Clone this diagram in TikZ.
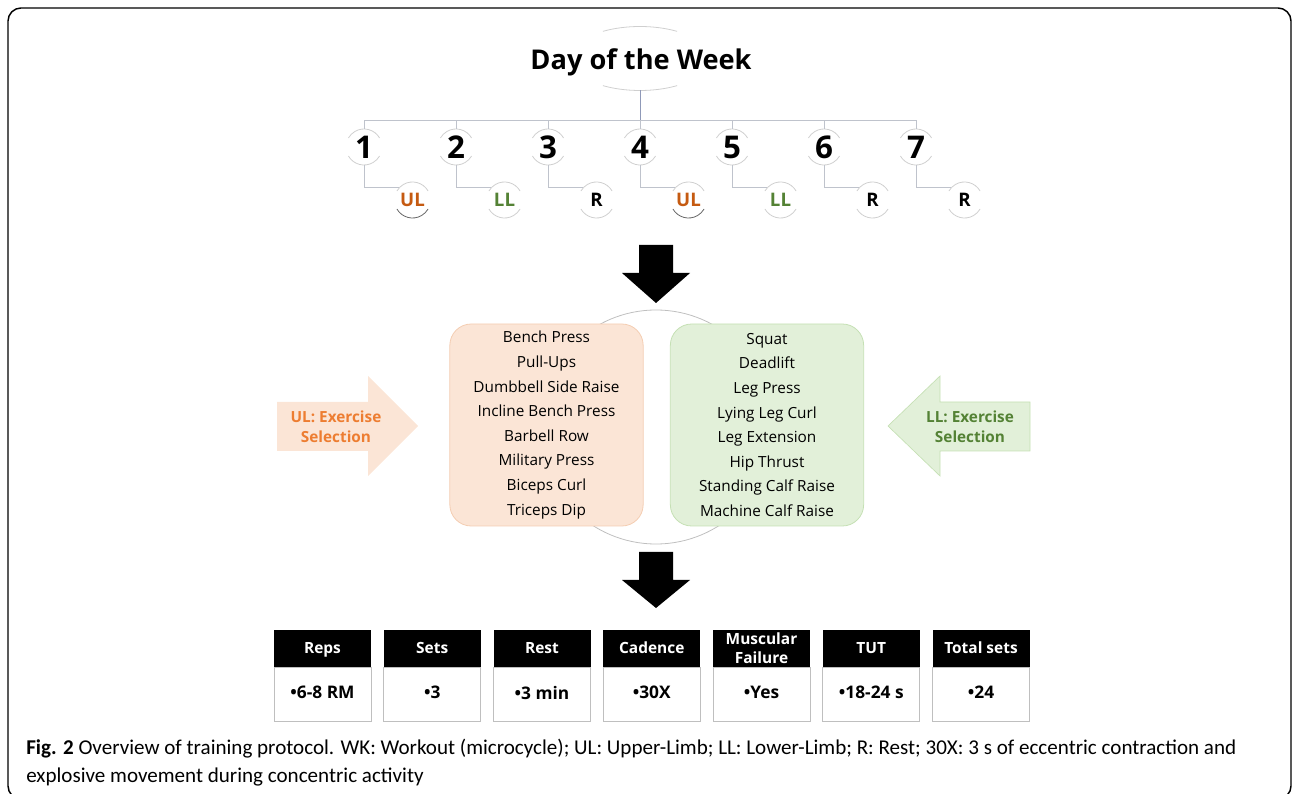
\documentclass[tikz,border=0pt]{standalone}
\usepackage{fontspec}
\setmainfont{Open Sans}
\newfontfamily\capfont{Carlito}
\newcommand\hdstrut{\rule[-2pt]{0pt}{12pt}}
\newcommand\bdstrut{\rule[-3pt]{0pt}{12pt}}
\definecolor{peach}{HTML}{FBE5D6}
\definecolor{peachline}{HTML}{F4CDB2}
\definecolor{mint}{HTML}{E2F0D9}
\definecolor{mintline}{HTML}{C5E0B4}
\definecolor{ulcol}{HTML}{C55A11}
\definecolor{llcol}{HTML}{548235}
\definecolor{ularrow}{HTML}{ED7D31}
\definecolor{treecol}{HTML}{BFC3CC}
\definecolor{stemcol}{HTML}{8F99B8}
\definecolor{arccol}{HTML}{CFCFCF}
\begin{document}
\begin{tikzpicture}[x=0.75pt,y=0.75pt,
  tree/.style={draw=treecol, line width=0.6pt},
  arcc/.style={draw=arccol, line width=0.6pt},
  arcdark/.style={draw=black!60, line width=0.6pt},
  num/.style={circle, minimum size=27pt, inner sep=0pt, outer sep=0pt, font=\bfseries\fontsize{23.5}{26}\selectfont},
  kid/.style={circle, minimum size=27pt, inner sep=0pt, outer sep=0pt, font=\bfseries\fontsize{14}{16}\selectfont},
  listbox/.style={rounded corners=16pt, line width=0.6pt, minimum width=145pt, minimum height=151.5pt, align=center, inner sep=0pt, font=\fontsize{11.5}{18.45}\selectfont},
  headbox/.style={fill=black, text=white, minimum width=72.75pt, minimum height=27.75pt, inner sep=0pt, align=center, font=\bfseries\fontsize{11.6}{14}\selectfont},
  bodybox/.style={draw=black!25, line width=0.6pt, minimum width=72.75pt, minimum height=40.5pt, inner sep=0pt, font=\bfseries\fontsize{13}{15}\selectfont},
  blockarrow/.style={line width=0.5pt},
  downarrow/.style={fill=black}
]
\useasboundingbox (0,0) rectangle (1292,793);
% frame
\draw[line width=1.1pt, rounded corners=9.75pt] (8,-6) rectangle (1291,785);

% title
\node[font=\bfseries\fontsize{20.4}{24}\selectfont] (title) at (641,731) {Day of the Week};
\coordinate (ec) at (640,734.5);
\draw[arcc] ([shift={(58:70 and 32)}]ec) arc[start angle=58, end angle=122, x radius=70, y radius=32];
\draw[arcc] ([shift={(238:70 and 32)}]ec) arc[start angle=238, end angle=302, x radius=70, y radius=32];

% tree
\coordinate (bar) at (640,673);
\coordinate (stemtop) at (640,702.5);
\draw[draw=stemcol, line width=0.6pt] (stemtop) -- (bar);

\foreach \i/\x/\lab/\col in {1/364/UL/ulcol, 2/456/LL/llcol, 3/548/R/black, 4/640/UL/ulcol, 5/732/LL/llcol, 6/824/R/black, 7/916/R/black}{
  \node[num] (n\i) at (\x,646) {\i};
  \node[kid, text=\col] (c\i) at (\x+48.5,593) {\lab};
  \draw[arcc] ([shift={(30:18)}]n\i.center) arc[start angle=30, end angle=150, radius=18];
  \draw[arcc] ([shift={(210:18)}]n\i.center) arc[start angle=210, end angle=330, radius=18];
  \draw[arcc] ([shift={(30:18)}]c\i.center) arc[start angle=30, end angle=150, radius=18];
  \draw[tree] (n\i.north) -- (n\i.north |- bar);
  \draw[tree] (n\i.south) |- (c\i.137);
}
\draw[tree] (n1.north |- bar) -- (n7.north |- bar);
\foreach \i in {2,3,5,6,7}{
  \draw[arcc] ([shift={(210:18)}]c\i.center) arc[start angle=210, end angle=330, radius=18];
}
\foreach \i in {1,4}{
  \draw[arcdark] ([shift={(210:18)}]c\i.center) arc[start angle=210, end angle=330, radius=18];
}

% down arrow 1
\fill[downarrow] (639,548) -- (673,548) -- (673,520) -- (690,520) -- (656,490) -- (622,520) -- (639,520) -- cycle;

% big circle
\draw[draw=black!25, line width=0.6pt] (656,366) circle[radius=117];

% list boxes
\node[listbox, fill=peach, draw=peachline] (ulbox) at (546.5,368) {Bench Press\\Pull-Ups\\Dumbbell Side Raise\\Incline Bench Press\\Barbell Row\\Military Press\\Biceps Curl\\Triceps Dip};
\node[listbox, fill=mint, draw=mintline] (llbox) at (767,368) {Squat\\Deadlift\\Leg Press\\Lying Leg Curl\\Leg Extension\\Hip Thrust\\Standing Calf Raise\\Machine Calf Raise};

% block arrows
\fill[peach] (277,391) -- (368,391) -- (368,417) -- (418,367) -- (368,317) -- (368,342) -- (277,342) -- cycle;
\node[text=ularrow, align=center, font=\bfseries\fontsize{11.5}{15}\selectfont] (ultxt) at (336,366) {UL: Exercise\\Selection};
\filldraw[fill=mint, draw=mintline, blockarrow] (1030,391) -- (940,391) -- (940,417) -- (888,367) -- (940,317) -- (940,342) -- (1030,342) -- cycle;
\node[text=llcol, align=center, font=\bfseries\fontsize{11.5}{15}\selectfont] (lltxt) at (970,366) {LL: Exercise\\Selection};

% down arrow 2
\fill[downarrow] (639,241) -- (673,241) -- (673,213) -- (690,213) -- (656,185) -- (622,213) -- (639,213) -- cycle;

% parameter boxes
\foreach \i/\x/\h/\b in {1/322.5/{Reps\hdstrut}/{•6-8 RM}, 2/432.25/{Sets\hdstrut}/{•3}, 3/542/{Rest\hdstrut}/{•3 min}, 4/651.75/{Cadence\hdstrut}/{•30X}, 5/761.5/{Muscular\\Failure}/{•Yes}, 6/871.25/{TUT\hdstrut}/{•18-24 s}, 7/981/{Total sets\hdstrut}/{•24}}{
  \node[headbox] (h\i) at (\x,144.5) {\h};
  \node[bodybox, anchor=north] (b\i) at (h\i.south) {\bdstrut\b};
}

% caption
\node[anchor=west, align=left, inner sep=0pt, font=\capfont\fontsize{15.8}{21}\selectfont] (cap) at (26,30) {\textbf{Fig. 2} Overview of training protocol. WK: Workout (microcycle); UL: Upper-Limb; LL: Lower-Limb; R: Rest; 30X: 3 s of eccentric contraction and\\explosive movement during concentric activity};
\end{tikzpicture}
\end{document}
